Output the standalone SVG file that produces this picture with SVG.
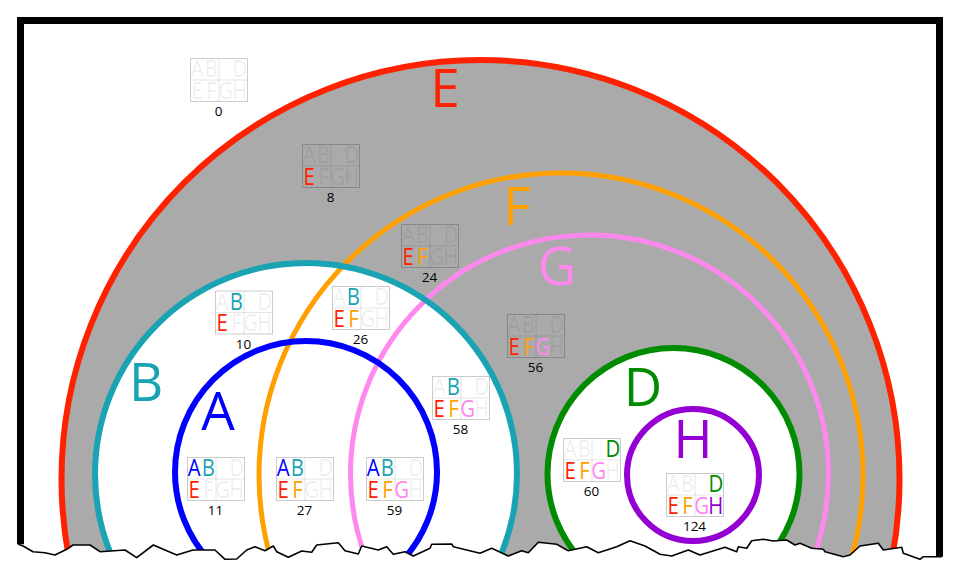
<svg xmlns="http://www.w3.org/2000/svg" xmlns:xlink="http://www.w3.org/1999/xlink" width="960" height="578" viewBox="0 0 960 578">
<style>
.ring{fill:none}
.big{font-family:"Open Sans","Liberation Sans",sans-serif;font-size:53px;text-anchor:middle}
.lt{font-family:"Open Sans","Liberation Sans",sans-serif;font-size:24px;text-anchor:middle}
.num{font-family:"Open Sans","Liberation Sans",sans-serif;font-size:13.5px;text-anchor:middle;fill:#000}
.off{fill:#000;fill-opacity:0.08}
.cA{fill:#0000ff}.cB{fill:#1aa3b3}.cD{fill:#008c00}.cE{fill:#ff2200}.cF{fill:#ffa000}.cG{fill:#ff88ee}.cH{fill:#9400d3}
.bx{fill:none;stroke:#000;stroke-opacity:0.2;stroke-width:1}
.gl{fill:none;stroke:#000;stroke-opacity:0.1;stroke-width:1}
</style>
<defs>
<clipPath id="paper">
<path d="M0 0H960V556.7L941.7 556.7 923.3 556.7 920 559.3 903.3 553.3 901.7 547.3 883.3 550 878.3 543.3 860 546 850 555 843.3 556.7 825 551.7 823.3 549.3 811.7 548.3 800 543.3 795 545 786.7 540 773.3 541 763.3 539.3 751.7 540.7 746.7 548.3 738.3 546.7 736.7 551.7 725 547.3 700 555 688.3 550 671.7 556 660 554.3 645 546 630 540.7 616.7 546.7 598.3 552.7 586.7 546.7 568.3 550.7 556.7 544.3 538.3 542.3 528.3 552.7 521.7 550.7 508.3 556 491.7 548.3 480 553.3 453.3 546.7 451.7 544 431.7 544.3 430 548.3 413.3 556 405 551.7 393.3 554.3 386.7 546.7 378.3 550 361.7 546 358.3 554 345 550.7 338.3 542.7 316.7 545 311.7 552.3 301.7 551 288.3 557.3 276.7 551.7 273.3 546 265 550.7 255 546.7 246.7 550 236.7 559 225 559.3 215 550 193 550 176.7 555 153.3 545 136.7 557.7 125 550 100 551.7 90 545 73 545 66.7 549.3 55 555 45 552.7 33 551.7 23 546 18.3 544.3 0 544.3Z"/>
</clipPath>
<g id="frm">
<rect class="bx" x="0.5" y="0.5" width="57" height="43"/>
<path class="gl" d="M29 0.5V43.5M0.5 22H57.5"/>
</g>
</defs>
<rect width="960" height="578" fill="#fff"/>
<g clip-path="url(#paper)">
<g id="fills">
<circle cx="480.5" cy="479" r="419" fill="#aaaaaa"/>
<circle cx="306" cy="474" r="211" fill="#fff"/>
<circle cx="673.5" cy="474" r="126" fill="#fff"/>
</g>
<g id="set-E"><circle class="ring" cx="480.5" cy="479" r="419" stroke="#ff2200" stroke-width="6"/><text class="big cE" x="445" y="107">E</text></g>
<g id="set-F"><circle class="ring" cx="561" cy="475" r="302" stroke="#ffa000" stroke-width="5"/><text class="big cF" x="517" y="225">F</text></g>
<g id="set-G"><circle class="ring" cx="589.5" cy="474" r="239" stroke="#ff88ee" stroke-width="5"/><text class="big cG" x="557" y="285">G</text></g>
<g id="set-B"><circle class="ring" cx="306" cy="474" r="211" stroke="#1aa3b3" stroke-width="6"/><text class="big cB" x="146" y="401">B</text></g>
<g id="set-A"><circle class="ring" cx="306" cy="472" r="131" stroke="#0000ff" stroke-width="6"/><text class="big cA" x="218" y="430">A</text></g>
<g id="set-D"><circle class="ring" cx="673.5" cy="474" r="126" stroke="#008c00" stroke-width="6"/><text class="big cD" x="643" y="406">D</text></g>
<g id="set-H"><circle class="ring" cx="693" cy="475" r="66" stroke="#9400d3" stroke-width="6"/><text class="big cH" x="693" y="458">H</text></g>

<g id="region-0" transform="translate(190,58)"><use href="#frm"/>
<g transform="scale(0.85 1)"><text class="lt off" x="8.35" y="19">A</text><text class="lt off" x="25.2" y="19">B</text><text class="lt off" x="58.7" y="19">D</text>
<text class="lt off" x="8.35" y="41">E</text><text class="lt off" x="25.2" y="41">F</text><text class="lt off" x="41.9" y="41">G</text><text class="lt off" x="58.7" y="41">H</text></g>
<text class="num" x="28.5" y="58">0</text></g>

<g id="region-8" transform="translate(302,144)"><use href="#frm"/>
<g transform="scale(0.85 1)"><text class="lt off" x="8.35" y="19">A</text><text class="lt off" x="25.2" y="19">B</text><text class="lt off" x="58.7" y="19">D</text>
<text class="lt cE" x="8.35" y="41">E</text><text class="lt off" x="25.2" y="41">F</text><text class="lt off" x="41.9" y="41">G</text><text class="lt off" x="58.7" y="41">H</text></g>
<text class="num" x="28.5" y="58">8</text></g>

<g id="region-24" transform="translate(401,224)"><use href="#frm"/>
<g transform="scale(0.85 1)"><text class="lt off" x="8.35" y="19">A</text><text class="lt off" x="25.2" y="19">B</text><text class="lt off" x="58.7" y="19">D</text>
<text class="lt cE" x="8.35" y="41">E</text><text class="lt cF" x="25.2" y="41">F</text><text class="lt off" x="41.9" y="41">G</text><text class="lt off" x="58.7" y="41">H</text></g>
<text class="num" x="28.5" y="58">24</text></g>

<g id="region-10" transform="translate(215,290.5)"><use href="#frm"/>
<g transform="scale(0.85 1)"><text class="lt off" x="8.35" y="19">A</text><text class="lt cB" x="25.2" y="19">B</text><text class="lt off" x="58.7" y="19">D</text>
<text class="lt cE" x="8.35" y="41">E</text><text class="lt off" x="25.2" y="41">F</text><text class="lt off" x="41.9" y="41">G</text><text class="lt off" x="58.7" y="41">H</text></g>
<text class="num" x="28.5" y="58">10</text></g>

<g id="region-26" transform="translate(332,286)"><use href="#frm"/>
<g transform="scale(0.85 1)"><text class="lt off" x="8.35" y="19">A</text><text class="lt cB" x="25.2" y="19">B</text><text class="lt off" x="58.7" y="19">D</text>
<text class="lt cE" x="8.35" y="41">E</text><text class="lt cF" x="25.2" y="41">F</text><text class="lt off" x="41.9" y="41">G</text><text class="lt off" x="58.7" y="41">H</text></g>
<text class="num" x="28.5" y="58">26</text></g>

<g id="region-56" transform="translate(507,314)"><use href="#frm"/>
<g transform="scale(0.85 1)"><text class="lt off" x="8.35" y="19">A</text><text class="lt off" x="25.2" y="19">B</text><text class="lt off" x="58.7" y="19">D</text>
<text class="lt cE" x="8.35" y="41">E</text><text class="lt cF" x="25.2" y="41">F</text><text class="lt cG" x="41.9" y="41">G</text><text class="lt off" x="58.7" y="41">H</text></g>
<text class="num" x="28.5" y="58">56</text></g>

<g id="region-58" transform="translate(432,376)"><use href="#frm"/>
<g transform="scale(0.85 1)"><text class="lt off" x="8.35" y="19">A</text><text class="lt cB" x="25.2" y="19">B</text><text class="lt off" x="58.7" y="19">D</text>
<text class="lt cE" x="8.35" y="41">E</text><text class="lt cF" x="25.2" y="41">F</text><text class="lt cG" x="41.9" y="41">G</text><text class="lt off" x="58.7" y="41">H</text></g>
<text class="num" x="28.5" y="58">58</text></g>

<g id="region-11" transform="translate(187,457)"><use href="#frm"/>
<g transform="scale(0.85 1)"><text class="lt cA" x="8.35" y="19">A</text><text class="lt cB" x="25.2" y="19">B</text><text class="lt off" x="58.7" y="19">D</text>
<text class="lt cE" x="8.35" y="41">E</text><text class="lt off" x="25.2" y="41">F</text><text class="lt off" x="41.9" y="41">G</text><text class="lt off" x="58.7" y="41">H</text></g>
<text class="num" x="28.5" y="58">11</text></g>

<g id="region-27" transform="translate(276,457)"><use href="#frm"/>
<g transform="scale(0.85 1)"><text class="lt cA" x="8.35" y="19">A</text><text class="lt cB" x="25.2" y="19">B</text><text class="lt off" x="58.7" y="19">D</text>
<text class="lt cE" x="8.35" y="41">E</text><text class="lt cF" x="25.2" y="41">F</text><text class="lt off" x="41.9" y="41">G</text><text class="lt off" x="58.7" y="41">H</text></g>
<text class="num" x="28.5" y="58">27</text></g>

<g id="region-59" transform="translate(366,457)"><use href="#frm"/>
<g transform="scale(0.85 1)"><text class="lt cA" x="8.35" y="19">A</text><text class="lt cB" x="25.2" y="19">B</text><text class="lt off" x="58.7" y="19">D</text>
<text class="lt cE" x="8.35" y="41">E</text><text class="lt cF" x="25.2" y="41">F</text><text class="lt cG" x="41.9" y="41">G</text><text class="lt off" x="58.7" y="41">H</text></g>
<text class="num" x="28.5" y="58">59</text></g>

<g id="region-60" transform="translate(563,438)"><use href="#frm"/>
<g transform="scale(0.85 1)"><text class="lt off" x="8.35" y="19">A</text><text class="lt off" x="25.2" y="19">B</text><text class="lt cD" x="58.7" y="19">D</text>
<text class="lt cE" x="8.35" y="41">E</text><text class="lt cF" x="25.2" y="41">F</text><text class="lt cG" x="41.9" y="41">G</text><text class="lt off" x="58.7" y="41">H</text></g>
<text class="num" x="28.5" y="58">60</text></g>

<g id="region-124" transform="translate(666,473)"><use href="#frm"/>
<g transform="scale(0.85 1)"><text class="lt off" x="8.35" y="19">A</text><text class="lt off" x="25.2" y="19">B</text><text class="lt cD" x="58.7" y="19">D</text>
<text class="lt cE" x="8.35" y="41">E</text><text class="lt cF" x="25.2" y="41">F</text><text class="lt cG" x="41.9" y="41">G</text><text class="lt cH" x="58.7" y="41">H</text></g>
<text class="num" x="28.5" y="58">124</text></g>
</g>
<g id="frame">
<path d="M20.5 544.3V20.5H939.5V556.7" fill="none" stroke="#000" stroke-width="7"/>
<polyline fill="none" stroke="#000" stroke-width="1.6" stroke-linejoin="round" points="18.3 544.3 23 546 33 551.7 45 552.7 55 555 66.7 549.3 73 545 90 545 100 551.7 125 550 136.7 557.7 153.3 545 176.7 555 193 550 215 550 225 559.3 236.7 559 246.7 550 255 546.7 265 550.7 273.3 546 276.7 551.7 288.3 557.3 301.7 551 311.7 552.3 316.7 545 338.3 542.7 345 550.7 358.3 554 361.7 546 378.3 550 386.7 546.7 393.3 554.3 405 551.7 413.3 556 430 548.3 431.7 544.3 451.7 544 453.3 546.7 480 553.3 491.7 548.3 508.3 556 521.7 550.7 528.3 552.7 538.3 542.3 556.7 544.3 568.3 550.7 586.7 546.7 598.3 552.7 616.7 546.7 630 540.7 645 546 660 554.3 671.7 556 688.3 550 700 555 725 547.3 736.7 551.7 738.3 546.7 746.7 548.3 751.7 540.7 763.3 539.3 773.3 541 786.7 540 795 545 800 543.3 811.7 548.3 823.3 549.3 825 551.7 843.3 556.7 850 555 860 546 878.3 543.3 883.3 550 901.7 547.3 903.3 553.3 920 559.3 923.3 556.7 941.7 556.7"/>
</g>
</svg>
